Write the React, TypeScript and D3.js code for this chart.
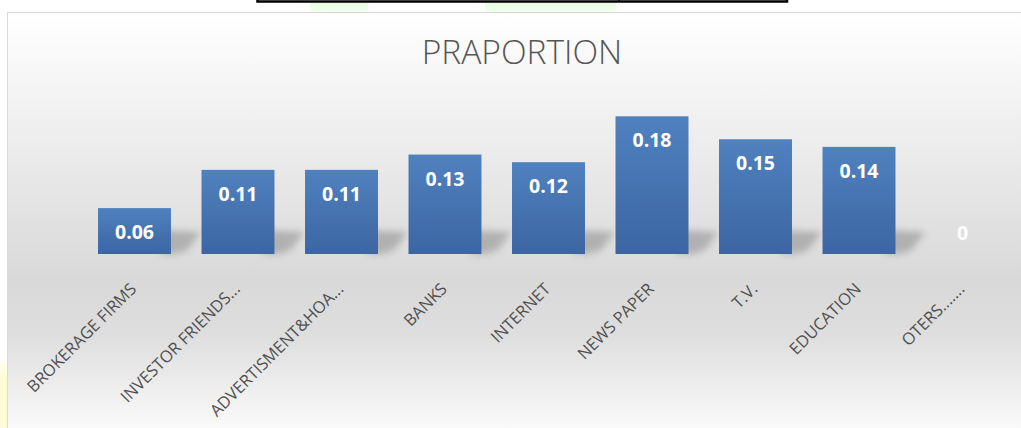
import React from "react";
import * as d3 from "d3";

const categories = [
  "BROKERAGE FIRMS",
  "INVESTOR FRIENDS...",
  "ADVERTISMENT&HOA...",
  "BANKS",
  "INTERNET",
  "NEWS PAPER",
  "T.V.",
  "EDUCATION",
  "OTERS.......",
];
const values = [0.06, 0.11, 0.11, 0.13, 0.12, 0.18, 0.15, 0.14, 0];
const valueLabels = ["0.06", "0.11", "0.11", "0.13", "0.12", "0.18", "0.15", "0.14", "0"];
const title = "PRAPORTION";

const W = 1021;
const H = 428;
const BASE = 254;

export default function App() {
  const x = d3
    .scaleBand<string>()
    .domain(categories)
    .range([82.75, 1014.25])
    .paddingInner(0.295)
    .paddingOuter(0.1475);
  const y = d3.scaleLinear().domain([0, 0.2]).range([BASE, 101]);
  const bw = x.bandwidth();

  return (
    <svg
      width={W}
      height={H}
      style={{ position: "absolute", left: 0, top: 0, background: "#ffffff" }}
      fontFamily="'Open Sans', sans-serif"
    >
      <defs>
        <linearGradient id="bg" x1="0" y1="0" x2="0" y2="1">
          <stop offset="0" stopColor="#ffffff" />
          <stop offset="0.2" stopColor="#f3f3f3" />
          <stop offset="0.62" stopColor="#d9d9d9" />
          <stop offset="0.75" stopColor="#dedede" />
          <stop offset="1" stopColor="#fefefe" />
        </linearGradient>
        <linearGradient id="bar" x1="0" y1="0" x2="0" y2="1">
          <stop offset="0" stopColor="#5081bf" />
          <stop offset="1" stopColor="#3b66a2" />
        </linearGradient>
        <linearGradient id="yel" x1="0" y1="0" x2="0" y2="1">
          <stop offset="0" stopColor="#fffff4" />
          <stop offset="0.3" stopColor="#fffbd2" />
          <stop offset="1" stopColor="#fffbd8" />
        </linearGradient>
        <linearGradient id="grn" x1="0" y1="0" x2="0" y2="1">
          <stop offset="0" stopColor="#e6ffe0" />
          <stop offset="1" stopColor="#f2fff0" />
        </linearGradient>
        <filter id="blur" x="-50%" y="-50%" width="200%" height="200%">
          <feGaussianBlur stdDeviation="3.5" />
        </filter>
      </defs>

      {/* page fragments above / left of the chart */}
      <rect x={0} y={360} width={7} height={68} fill="url(#yel)" />
      <rect x={310} y={3} width={58} height={9} fill="url(#grn)" />
      <rect x={485} y={3} width={131} height={9} fill="url(#grn)" />
      <path d="M257.5,-2 V1.5 H787 V-2" fill="none" stroke="#000" strokeWidth={2.5} />
      <line x1={619} x2={619} y1={-2} y2={1.5} stroke="#000" strokeWidth={1.5} />

      {/* chart area */}
      <rect x={7.5} y={12.5} width={1030} height={430} fill="url(#bg)" stroke="#d9d9d9" strokeWidth={1} />

      <text x={522} y={64} textAnchor="middle" fontSize={33.5} fontWeight={300} fill="#555555">
        {title}
      </text>

      {/* shadows */}
      {categories.map((c, i) =>
        values[i] > 0 ? (
          <polygon
            key={"s" + c}
            points={(() => {
              const xr = (x(c) as number) + bw;
              return [
                [xr - 10, BASE],
                [xr - 10, BASE - 24],
                [xr + 30, BASE - 22],
                [xr + 16, BASE - 4],
                [xr + 4, BASE],
              ]
                .map((p) => p.join(","))
                .join(" ");
            })()}
            fill="#7a7a7a"
            opacity={0.45}
            filter="url(#blur)"
          />
        ) : null
      )}

      {/* bars */}
      {categories.map((c, i) => (
        <rect
          key={"b" + c}
          x={x(c)}
          y={y(values[i])}
          width={bw}
          height={BASE - y(values[i])}
          fill="url(#bar)"
        />
      ))}

      {/* value labels */}
      {categories.map((c, i) => (
        <text
          key={"v" + c}
          x={(x(c) as number) + bw / 2}
          y={Math.min(y(values[i]) + 31, BASE - 14)}
          textAnchor="middle"
          fontSize={19.5}
          fontWeight={700}
          fill="#ffffff"
        >
          {valueLabels[i]}
        </text>
      ))}

      {/* category labels */}
      {categories.map((c) => (
        <text
          key={"c" + c}
          transform={`translate(${(x(c) as number) + bw / 2 + 3},290) rotate(-45)`}
          textAnchor="end"
          fontSize={16.5}
          fill="#505050"
        >
          {c}
        </text>
      ))}
    </svg>
  );
}
